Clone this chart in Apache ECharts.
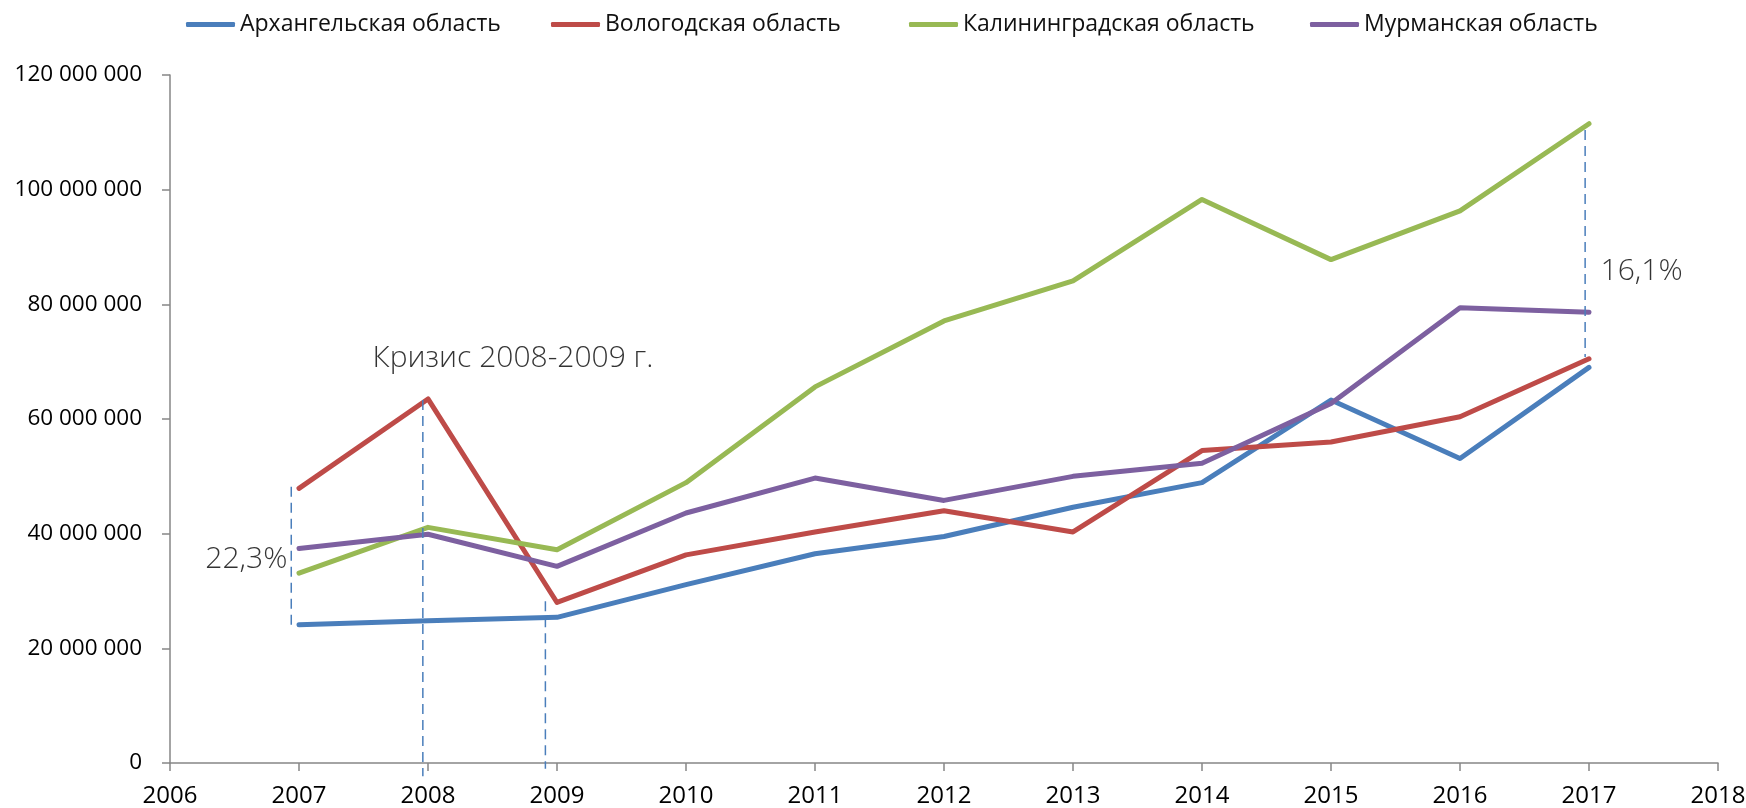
<!DOCTYPE html>
<html>
<head>
<meta charset="utf-8">
<title>ВРП регионов</title>
<script src="https://cdn.jsdelivr.net/npm/echarts@6/dist/echarts.min.js"></script>
<style>
  html, body { margin: 0; padding: 0; background: #fff; }
  #main { width: 1746px; height: 808px; }
</style>
</head>
<body>
<div id="main"></div>
<script>
// данные по годам
var years = [2007, 2008, 2009, 2010, 2011, 2012, 2013, 2014, 2015, 2016, 2017]
var seriesNames = ['Архангельская область', 'Вологодская область', 'Калининградская область', 'Мурманская область']
var arkhangelsk = [24100000, 24800000, 25400000, 31100000, 36500000, 39500000, 44600000, 48900000, 63300000, 53100000, 69000000]
var vologda = [47900000, 63500000, 28000000, 36300000, 40300000, 44000000, 40300000, 54500000, 56000000, 60400000, 70500000]
var kaliningrad = [33100000, 41100000, 37200000, 48900000, 65600000, 77100000, 84100000, 98300000, 87800000, 96300000, 111500000]
var murmansk = [37400000, 39900000, 34300000, 43600000, 49700000, 45800000, 50000000, 52300000, 62700000, 79400000, 78600000]
var yTicks = [0, 20000000, 40000000, 60000000, 80000000, 100000000, 120000000]

// пунктирные линии: [год, верх, низ]
var guideLines = [
  [2006.94, 48200000, 24100000],
  [2007.96, 63300000, -2300000],
  [2008.91, 28200000, -1000000],
  [2016.97, 110400000, 70800000]
]
// подписи: [год, значение, текст, сторона]
var notes = [
  [2007.57, 70600000, 'Кризис 2008-2009 г.', 'right'],
  [2006.91, 35500000, '22,3%', 'left'],
  [2017.09, 85700000, '16,1%', 'right']
]

var obj = {

  colors: ['#4A7EBB', '#BE4B48', '#98B954', '#7D60A0'],
  legendLeft: [181, 546, 904, 1305],

  fmtNum: function (v) {
    return String(v).replace(/\B(?=(\d{3})+(?!\d))/g, ' ')
  },

  buildSeries: function () {
    let that = this
    let values = [arkhangelsk, vologda, kaliningrad, murmansk]
    let list = []
    $each(values, function (i, arr) {
      list.push({
        name: seriesNames[i],
        type: 'line',
        symbol: 'none',
        data: years.map(function (y, k) { return [y, arr[k]] }),
        lineStyle: { width: 5, color: that.colors[i], cap: 'round', join: 'round' },
        itemStyle: { color: that.colors[i] },
        z: 2 + i
      })
    })
    $each(guideLines, function (i, g) {
      list.push({
        name: 'guide' + i,
        type: 'line',
        symbol: 'none',
        clip: false,
        silent: true,
        data: [[g[0], g[1]], [g[0], g[2]]],
        lineStyle: { width: 1.5, color: '#4A7EBB', type: [10, 6] },
        z: 10
      })
    })
    list.push({
      name: 'notes',
      type: 'scatter',
      symbolSize: 0,
      silent: true,
      data: notes.map(function (n) {
        return {
          value: [n[0], n[1]],
          label: { position: n[3], formatter: n[2] }
        }
      }),
      label: {
        show: true,
        distance: 0,
        color: '#000',
        fontFamily: 'Open Sans',
        fontWeight: 300,
        fontSize: 30
      },
      z: 11
    })
    return list
  },

  buildLegend: function () {
    let that = this
    return seriesNames.map(function (name, i) {
      return {
        data: [name],
        left: that.legendLeft[i],
        top: 8,
        icon: 'roundRect',
        itemWidth: 49,
        itemHeight: 5,
        itemGap: 0,
        textStyle: { fontFamily: 'Open Sans', fontSize: 23, color: '#111' },
        selectedMode: false
      }
    })
  },

  initecharts: function () {
    let that = this
    let myChart = echarts.init(document.getElementById('main'))
    let axisLine = { show: true, lineStyle: { color: '#868686', width: 1.5 } }
    let axisTick = { show: true, inside: false, length: 8, lineStyle: { color: '#868686', width: 1.5 } }
    let option = {
      animation: false,
      backgroundColor: '#fff',
      legend: that.buildLegend(),
      grid: { left: 170, right: 28, top: 75, bottom: 45, containLabel: false, outerBoundsMode: 'none' },
      xAxis: {
        type: 'value',
        min: 2006,
        max: 2018,
        interval: 1,
        axisLine: axisLine,
        axisTick: axisTick,
        splitLine: { show: false },
        axisLabel: {
          margin: 21,
          fontFamily: 'Open Sans',
          fontSize: 24,
          color: '#000',
          formatter: function (v) { return String(v) }
        }
      },
      yAxis: {
        type: 'value',
        min: yTicks[0],
        max: yTicks[yTicks.length - 1],
        interval: yTicks[1] - yTicks[0],
        axisLine: axisLine,
        axisTick: axisTick,
        splitLine: { show: false },
        axisLabel: {
          margin: 28,
          fontFamily: 'Open Sans',
          fontSize: 22.5,
          color: '#000',
          formatter: function (v) { return that.fmtNum(v) }
        }
      },
      series: that.buildSeries()
    }
    myChart.setOption(option, true)
  },

  init: function () {
    this.initecharts()
  }
}

// маленький помощник вместо $.each
function $each(arr, fn) {
  for (let i = 0; i < arr.length; i++) fn(i, arr[i])
}

obj.init()
</script>
</body>
</html>
